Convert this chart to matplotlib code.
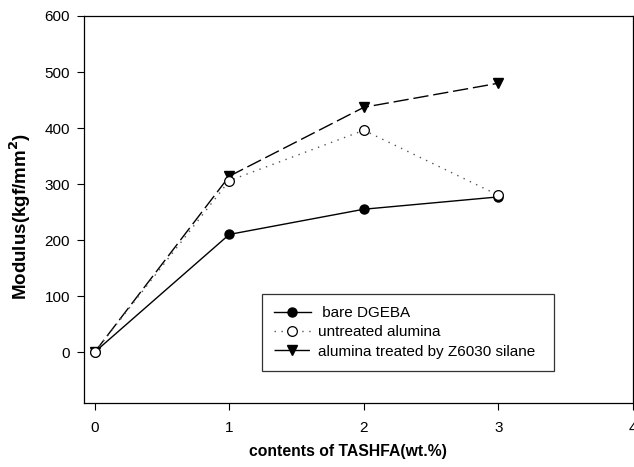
import matplotlib.pyplot as plt

plt.rcParams["font.family"] = ["Liberation Sans", "DejaVu Sans"]

content = [0, 1, 2, 3]
bare_dgeba = [0, 210, 255, 277]
untreated = [0, 306, 396, 280]
treated = [0, 314, 437, 480]

fig = plt.figure(figsize=(6.34, 4.67), dpi=100)
ax = fig.add_axes([84 / 634, 64 / 467, 549 / 634, 387 / 467])

ax.plot(content, bare_dgeba, color="black", linewidth=1.0, linestyle="-",
        marker="o", markersize=6.5, markerfacecolor="black",
        markeredgecolor="black", label=" bare DGEBA", zorder=3)
ax.plot(content, untreated, color="#555555", linewidth=1.0, linestyle=(0, (1, 4)),
        marker="o", markersize=7, markerfacecolor="white",
        markeredgecolor="black", markeredgewidth=0.9,
        label="untreated alumina", zorder=4)
ax.plot(content, treated, color="black", linewidth=1.0, linestyle=(0, (11, 3.5)),
        marker="v", markersize=7, markerfacecolor="black",
        markeredgecolor="black", label="alumina treated by Z6030 silane", zorder=2)

ax.set_xlim(-0.08, 4.0)
ax.set_ylim(-91, 600)
ax.set_xticks([0, 1, 2, 3, 4])
ax.set_yticks([0, 100, 200, 300, 400, 500, 600])
ax.tick_params(direction="out", length=5, width=0.8, labelsize=11)
ax.tick_params(axis="x", pad=8)
ax.tick_params(axis="y", pad=5)

for sp in ax.spines.values():
    sp.set_linewidth(0.9)

ax.set_xlabel("contents of TASHFA(wt.%)", fontsize=11.3, fontweight="bold")
ax.xaxis.set_label_coords(0.48, -0.106)
ax.set_ylabel("Modulus(kgf/mm$^\\mathbf{2}$)", fontsize=13.5, fontweight="bold")
ax.yaxis.set_label_coords(-0.092, 0.483)

leg = ax.legend(loc="upper left", bbox_to_anchor=(0.324, 0.282, 0.532, 0.0),
                mode="expand", fontsize=11, frameon=True, fancybox=False,
                handlelength=2.4, handletextpad=0.5, borderpad=0.8,
                labelspacing=0.35, borderaxespad=0)
leg.get_frame().set_edgecolor("black")
leg.get_frame().set_linewidth(0.9)

fig.savefig("out.png", dpi=100, facecolor="white")
